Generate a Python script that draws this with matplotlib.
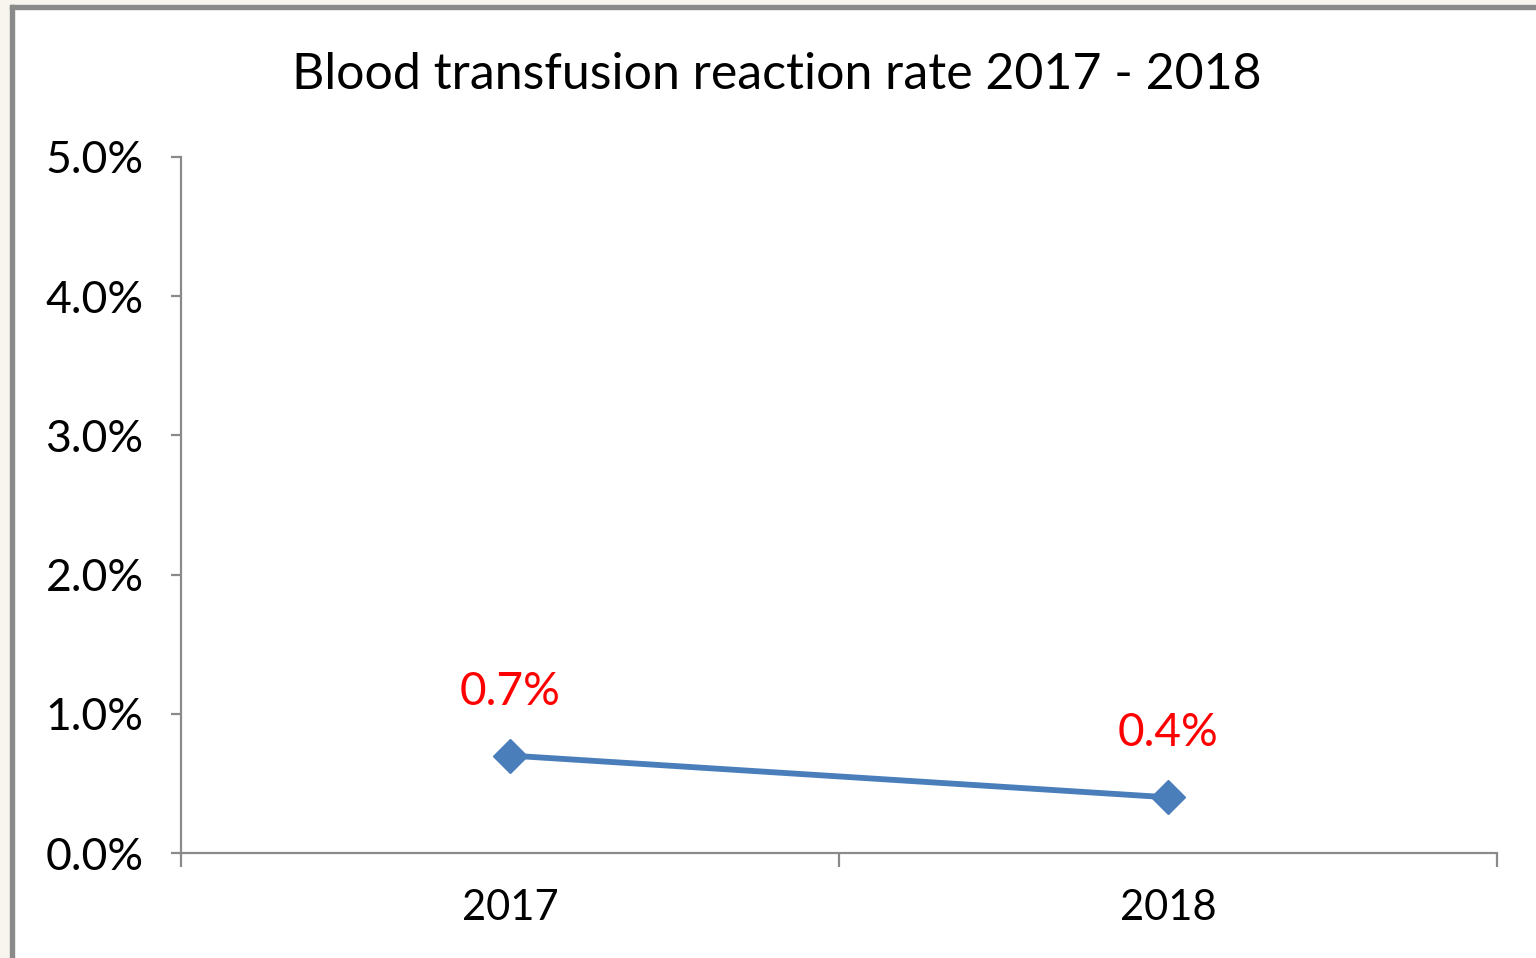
import matplotlib.pyplot as plt
from matplotlib.patches import Rectangle
from matplotlib.ticker import PercentFormatter

years = ['2017', '2018']
rates = [0.7, 0.4]
rate_labels = ['0.7%', '0.4%']
y_ticks = [0, 1, 2, 3, 4, 5]

plt.rcParams['font.family'] = ['Lato', 'DejaVu Sans']

W, H = 1536, 958
fig = plt.figure(figsize=(W / 100, H / 100), dpi=100)
fig.patch.set_facecolor('white')

# outer frame: cream margin and grey border (top and left only)
cream = '#f7f5ee'
fig.patches.append(Rectangle((0, 0), 10 / W, 1, transform=fig.transFigure, color=cream, zorder=-2))
fig.patches.append(Rectangle((0, 1 - 5 / H), 1, 5 / H, transform=fig.transFigure, color=cream, zorder=-2))
fig.patches.append(Rectangle((10 / W, 0), 3.5 / W, 1 - 5 / H, transform=fig.transFigure, color='#8a8a8a', zorder=-1))
fig.patches.append(Rectangle((10 / W, 1 - 9 / H), 1, 4 / H, transform=fig.transFigure, color='#8a8a8a', zorder=-1))

ax = fig.add_axes([181 / W, 1 - 853 / H, (1497 - 181) / W, (853 - 157) / H])
x = list(range(len(years)))
ax.plot(x, rates, color='#4a7ebb', lw=4.2, marker='D', ms=17, zorder=3)

for xi, v, lab in zip(x, rates, rate_labels):
    ax.annotate(lab, (xi, v), xytext=(0, 31), textcoords='offset points',
                ha='center', va='bottom', color='#ff0000', fontsize=33)

ax.set_xlim(-0.5, len(years) - 0.5)
ax.set_ylim(0, 5)
ax.set_yticks(y_ticks)
ax.yaxis.set_major_formatter(PercentFormatter(decimals=1))

ax.set_xticks([i - 0.5 for i in range(len(years) + 1)])
ax.set_xticklabels([])
ax.set_xticks(x, minor=True)
ax.set_xticklabels(years, minor=True)

grey = '#8a8a8a'
for s in ['top', 'right']:
    ax.spines[s].set_visible(False)
for s in ['left', 'bottom']:
    ax.spines[s].set_color(grey)
    ax.spines[s].set_linewidth(1.6)

ax.tick_params(axis='y', which='major', length=7, width=1.6, color=grey,
               labelsize=32, pad=20)
ax.tick_params(axis='x', which='major', length=10, width=1.6, color=grey)
ax.tick_params(axis='x', which='minor', length=0, labelsize=30, pad=26)

fig.text(777 / W, 1 - 75 / H, 'Blood transfusion reaction rate 2017 - 2018',
         ha='center', va='center', fontsize=36)

fig.savefig('out.png', dpi=100)
